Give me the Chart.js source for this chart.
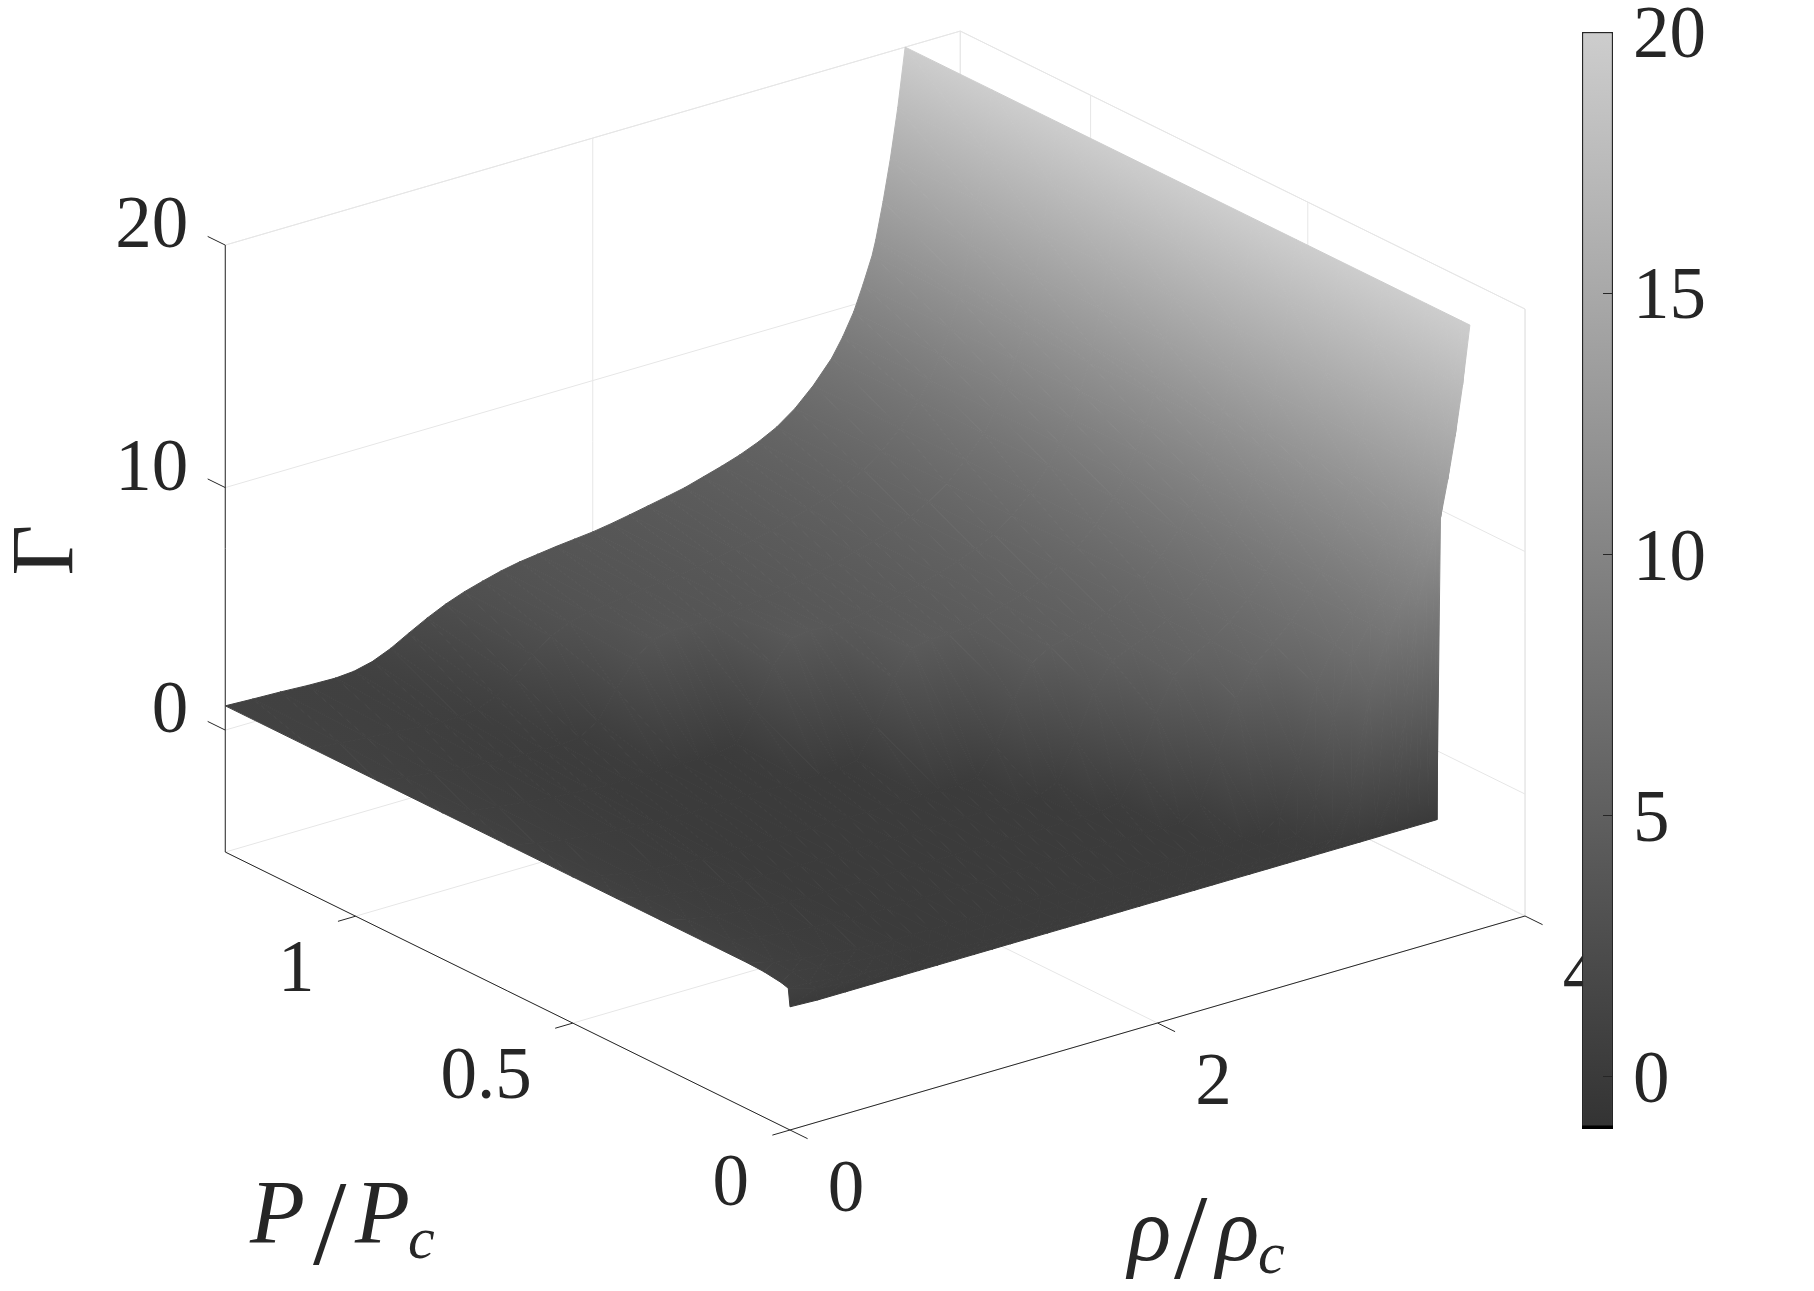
<!DOCTYPE html>
<html>
<head>
<meta charset="utf-8">
<title>Gamma surface</title>
<script src="https://cdn.jsdelivr.net/npm/chart.js@4/dist/chart.umd.min.js"></script>
<style>
  html, body { margin: 0; background: #fff; }
  #surface, #colorbar { position: absolute; top: 0; }
  #surface { left: 0; }
  #colorbar { left: 1582px; }
</style>
</head>
<body>
<canvas id="surface" width="1814" height="1291"></canvas>
<canvas id="colorbar" width="232" height="1291"></canvas>
<script>
// values
const rhoValues = [0, 0.15, 0.3, 0.45, 0.6, 0.7, 0.8, 0.9, 1.0, 1.1, 1.2, 1.3, 1.4, 1.5, 1.6, 1.7, 1.8, 1.9, 2.0, 2.1, 2.2, 2.3, 2.4, 2.5, 2.6, 2.7, 2.8, 2.9, 3.0, 3.1, 3.2, 3.3, 3.36, 3.42, 3.47, 3.52, 3.54, 3.58, 3.62, 3.66, 3.7];
const pValues = [0, 0.004, 0.02, 0.06, 0.1, 0.2, 0.3, 0.4, 0.5, 0.65, 0.8, 0.95, 1.1, 1.3];

// far edge of the surface, also where every row ends up at high density
const gammaPlateau = [1.0, 0.95, 0.91, 0.85, 0.82, 0.88, 1.06, 1.38, 1.8, 2.2, 2.55, 2.83, 3.05, 3.25, 3.4, 3.5, 3.6, 3.68, 3.76, 3.88, 4.02, 4.17, 4.32, 4.48, 4.7, 4.92, 5.17, 5.48, 5.87, 6.42, 7.15, 8.05, 8.8, 9.7, 10.7, 11.8, 12.4, 13.9, 15.6, 17.6, 20];

// low density part of each row, the rest of the row is gammaPlateau
const headP000 = [0.05, 0, 0, 0, 0, 0, 0, 0, 0, 0, 0, 0, 0, 0, 0, 0, 0, 0, 0, 0, 0, 0, 0, 0, 0, 0, 0, 0, 0, 0, 0, 0, 0, 0, 0, 0];
const headP004 = [0.78, 0.45, 0.3, 0.2, 0.15, 0.15, 0.15, 0.15, 0.15, 0.15, 0.15, 0.15, 0.15, 0.15, 0.15, 0.15, 0.15, 0.15, 0.15, 0.15, 0.15, 0.15, 0.15, 0.15, 0.15, 0.15, 0.15, 0.15, 0.15, 0.15, 0.2, 1.8, 5, 8.9, 10.4];
const headP020 = [0.87, 0.55, 0.4, 0.3, 0.2, 0.15, 0.15, 0.15, 0.15, 0.15, 0.15, 0.15, 0.15, 0.15, 0.15, 0.15, 0.15, 0.15, 0.15, 0.15, 0.15, 0.15, 0.15, 0.15, 0.15, 0.15, 0.15, 0.15, 0.2, 1.5, 5.8, 7.9];
const headP060 = [0.97, 0.65, 0.5, 0.35, 0.25, 0.2, 0.15, 0.15, 0.15, 0.15, 0.15, 0.15, 0.15, 0.15, 0.15, 0.15, 0.15, 0.15, 0.15, 0.15, 0.15, 0.15, 0.15, 0.15, 0.15, 0.15, 0.15, 0.2, 1.3, 4.6, 6.9];
const headP100 = [1.0, 0.7, 0.5, 0.35, 0.25, 0.2, 0.15, 0.15, 0.15, 0.15, 0.15, 0.15, 0.15, 0.15, 0.15, 0.15, 0.15, 0.15, 0.15, 0.15, 0.15, 0.15, 0.15, 0.15, 0.15, 0.15, 0.15, 0.6, 2.6, 5.6, 7.05];
const headP200 = [1.0, 0.7, 0.5, 0.35, 0.25, 0.2, 0.15, 0.15, 0.15, 0.15, 0.15, 0.15, 0.15, 0.15, 0.15, 0.15, 0.15, 0.15, 0.15, 0.15, 0.15, 0.15, 0.15, 0.15, 0.15, 0.7, 2.5, 4.6, 5.75];
const headP300 = [1.0, 0.7, 0.5, 0.35, 0.25, 0.2, 0.15, 0.15, 0.15, 0.15, 0.15, 0.15, 0.15, 0.15, 0.15, 0.15, 0.15, 0.15, 0.15, 0.15, 0.15, 0.15, 0.15, 0.3, 1.6, 3.5, 4.9];
const headP400 = [1.0, 0.7, 0.5, 0.35, 0.25, 0.2, 0.15, 0.15, 0.15, 0.15, 0.15, 0.15, 0.15, 0.15, 0.15, 0.15, 0.15, 0.15, 0.15, 0.15, 0.15, 0.15, 0.5, 2.0, 3.8, 4.85];
const headP500 = [1.0, 0.7, 0.5, 0.35, 0.25, 0.2, 0.15, 0.15, 0.15, 0.15, 0.15, 0.15, 0.15, 0.15, 0.15, 0.15, 0.15, 0.15, 0.15, 0.15, 0.25, 1.3, 3.0, 4.3, 4.75];
const headP650 = [1.0, 0.72, 0.55, 0.4, 0.3, 0.22, 0.15, 0.15, 0.15, 0.15, 0.15, 0.15, 0.15, 0.15, 0.15, 0.15, 0.15, 0.3, 1.5, 3.2, 4.25, 4.4, 4.4];
const headP800 = [1.0, 0.75, 0.6, 0.45, 0.3, 0.25, 0.2, 0.15, 0.15, 0.15, 0.15, 0.15, 0.15, 0.15, 0.3, 1.5, 3.1, 4.0, 4.1, 4.05, 4.05];
const headP950 = [1.0, 0.8, 0.65, 0.5, 0.4, 0.35, 0.3, 0.3, 0.3, 0.35, 0.8, 1.9, 2.9, 3.5, 3.65, 3.65];
const headP1100 = [1.0, 0.9, 0.8, 0.7, 0.6, 0.55, 0.55, 0.65, 0.95, 1.5, 2.2, 2.75, 3.1, 3.3];
const headP1300 = [1.0];

const gammaRows = [headP000, headP004, headP020, headP060, headP100, headP200, headP300, headP400, headP500, headP650, headP800, headP950, headP1100, headP1300]
  .map(head => head.concat(gammaPlateau.slice(head.length)));

const gammaTicks = [0, 10, 20];
const pTicks = [0, 0.5, 1];
const pTickLabels = ["0", "0.5", "1"];
const rhoTicks = [0, 2, 4];
const colorbarTicks = [0, 5, 10, 15, 20];

const rhoMax = 4, pMax = 1.3, gammaMin = -5.03, gammaMax = 20;
const colorMin = -1, colorMax = 20;
const grayLow = 51, grayHigh = 205;

const inkColor = "#262626";
const gridColor = "#e6e6e6";
const numberFont = '73px "Liberation Serif"';

// view of the MATLAB box, orthographic
function project(rho, p, gamma) {
  return {
    x: 790 + 183.75 * rho - 434.4 * p,
    y: 1130 - 53.5 * rho - 213.8 * p - 24.25 * (gamma - gammaMin)
  };
}

function levelFor(gamma) {
  return grayLow + (grayHigh - grayLow) * (gamma - colorMin) / (colorMax - colorMin);
}
function gammaForLevel(level) {
  return colorMin + (level - grayLow) * (colorMax - colorMin) / (grayHigh - grayLow);
}
function grayCss(level) {
  const v = Math.round(Math.min(grayHigh, Math.max(grayLow, level)));
  return "rgb(" + v + "," + v + "," + v + ")";
}

const surfaceCtx = document.getElementById("surface").getContext("2d");

// exact linear shade over one triangle of the grid, the end stops sit on
// whole gray levels so that neighbouring triangles agree
function triangleShade(a, b, c) {
  const sorted = [a, b, c].sort((m, n) => m.g - n.g);
  const low = sorted[0], high = sorted[2];
  const span = high.g - low.g;
  if (span < 0.001) return grayCss(levelFor(low.g));
  const ux = b.x - a.x, uy = b.y - a.y, vx = c.x - a.x, vy = c.y - a.y;
  const det = ux * vy - uy * vx;
  if (Math.abs(det) < 0.01) {
    const flat = surfaceCtx.createLinearGradient(low.x, low.y, high.x, high.y);
    flat.addColorStop(0, grayCss(levelFor(low.g)));
    flat.addColorStop(1, grayCss(levelFor(high.g)));
    return flat;
  }
  const du = b.g - a.g, dv = c.g - a.g;
  const gx = (du * vy - dv * uy) / det;
  const gy = (dv * ux - du * vx) / det;
  const len = gx * gx + gy * gy;
  const levelA = Math.floor(levelFor(low.g)), levelB = Math.ceil(levelFor(high.g));
  const toA = (gammaForLevel(levelA) - low.g) / len;
  const toB = (gammaForLevel(levelB) - low.g) / len;
  const grad = surfaceCtx.createLinearGradient(low.x + gx * toA, low.y + gy * toA, low.x + gx * toB, low.y + gy * toB);
  grad.addColorStop(0, grayCss(levelA));
  grad.addColorStop(1, grayCss(levelB));
  return grad;
}

function triangleDataset(a, b, c) {
  const shade = triangleShade(a, b, c);
  return {
    data: [a, b, c, a].map(q => ({ x: q.x, y: q.y })),
    showLine: true,
    fill: "shape",
    backgroundColor: shade,
    borderColor: shade,
    borderWidth: 1,
    pointRadius: 0,
    tension: 0
  };
}

function lineDataset(from, to, color) {
  return {
    data: [project(from[0], from[1], from[2]), project(to[0], to[1], to[2])],
    showLine: true,
    borderColor: color,
    borderWidth: 1,
    pointRadius: 0
  };
}

const datasets = [];

// chart.js paints dataset 0 last, so the near cells go first
function vertex(i, j) {
  const pos = project(rhoValues[j], pValues[i], gammaRows[i][j]);
  return { x: pos.x, y: pos.y, g: gammaRows[i][j] };
}
for (let i = 0; i < pValues.length - 1; i++) {
  for (let j = 0; j < rhoValues.length - 1; j++) {
    const a = vertex(i, j), b = vertex(i, j + 1), c = vertex(i + 1, j + 1), d = vertex(i + 1, j);
    datasets.push(triangleDataset(a, b, c));
    datasets.push(triangleDataset(a, c, d));
  }
}

// dark axes and ticks
datasets.push(lineDataset([0, 0, gammaMin], [rhoMax, 0, gammaMin], inkColor));
datasets.push(lineDataset([0, 0, gammaMin], [0, pMax, gammaMin], inkColor));
datasets.push(lineDataset([0, pMax, gammaMin], [0, pMax, gammaMax], inkColor));
gammaTicks.forEach(g => datasets.push(lineDataset([0, pMax, g], [0, pMax + 0.0405, g], inkColor)));
pTicks.forEach(p => datasets.push(lineDataset([0, p, gammaMin], [-0.096, p, gammaMin], inkColor)));
rhoTicks.forEach(r => datasets.push(lineDataset([r, 0, gammaMin], [r, -0.0405, gammaMin], inkColor)));

// pale box and grid
datasets.push(lineDataset([0, pMax, gammaMax], [rhoMax, pMax, gammaMax], gridColor));
datasets.push(lineDataset([rhoMax, pMax, gammaMax], [rhoMax, 0, gammaMax], gridColor));
datasets.push(lineDataset([rhoMax, pMax, gammaMin], [rhoMax, pMax, gammaMax], gridColor));
datasets.push(lineDataset([rhoMax, 0, gammaMin], [rhoMax, 0, gammaMax], gridColor));
datasets.push(lineDataset([0, pMax, gammaMin], [rhoMax, pMax, gammaMin], gridColor));
datasets.push(lineDataset([rhoMax, 0, gammaMin], [rhoMax, pMax, gammaMin], gridColor));
gammaTicks.forEach(g => {
  datasets.push(lineDataset([0, pMax, g], [rhoMax, pMax, g], gridColor));
  datasets.push(lineDataset([rhoMax, pMax, g], [rhoMax, 0, g], gridColor));
});
rhoTicks.forEach(r => {
  datasets.push(lineDataset([r, pMax, gammaMin], [r, pMax, gammaMax], gridColor));
  datasets.push(lineDataset([r, 0, gammaMin], [r, pMax, gammaMin], gridColor));
});
pTicks.forEach(p => {
  datasets.push(lineDataset([rhoMax, p, gammaMin], [rhoMax, p, gammaMax], gridColor));
  datasets.push(lineDataset([0, p, gammaMin], [rhoMax, p, gammaMin], gridColor));
});

function put(ctx, text, x, y, font, align, base) {
  ctx.font = font;
  ctx.textAlign = align || "left";
  ctx.textBaseline = base || "alphabetic";
  ctx.fillText(text, x, y);
}

// tick numbers and axis names
const labelsPlugin = {
  id: "labels3d",
  afterDatasetsDraw(chart) {
    const ctx = chart.ctx;
    ctx.save();
    ctx.fillStyle = inkColor;
    gammaTicks.forEach(g => {
      const t = project(0, pMax, g);
      put(ctx, String(g), t.x - 37, t.y - 17, numberFont, "right", "middle");
    });
    pTicks.forEach((p, k) => {
      const t = project(0, p, gammaMin);
      put(ctx, pTickLabels[k], t.x - 41, t.y + 56, numberFont, "right", "middle");
    });
    rhoTicks.forEach(r => {
      const t = project(r, 0, gammaMin);
      put(ctx, String(r), t.x + 56, t.y + 62, numberFont, "center", "middle");
    });

    const nameFont = 'italic 90px "Liberation Serif"';
    const subFont = 'italic 60px "Liberation Serif"';
    const slashFont = '120px "Liberation Serif"';
    put(ctx, "P", 250, 1243, nameFont);
    put(ctx, "/", 313, 1264, slashFont);
    put(ctx, "P", 355, 1243, nameFont);
    put(ctx, "c", 408, 1258, subFont);
    put(ctx, "ρ", 1128, 1260, nameFont);
    put(ctx, "/", 1174, 1278, slashFont);
    put(ctx, "ρ", 1216, 1260, nameFont);
    put(ctx, "c", 1258, 1273, subFont);

    ctx.translate(72, 550);
    ctx.rotate(-Math.PI / 2);
    put(ctx, "Γ", 0, 0, '88px "Liberation Serif"', "center");
    ctx.restore();
  }
};

new Chart(surfaceCtx, {
  type: "scatter",
  data: { datasets: datasets },
  plugins: [labelsPlugin],
  options: {
    responsive: false,
    animation: false,
    events: [],
    layout: { padding: 0 },
    plugins: { legend: { display: false }, tooltip: { enabled: false } },
    scales: {
      x: { type: "linear", display: false, min: 0, max: 1814 },
      y: { type: "linear", display: false, min: 0, max: 1291, reverse: true }
    }
  }
});

// colorbar, a floating bar on a real axis
new Chart(document.getElementById("colorbar").getContext("2d"), {
  type: "bar",
  data: {
    labels: ["Γ"],
    datasets: [
      {
        data: [[colorMin, -0.94]],
        backgroundColor: "#000000",
        grouped: false,
        barPercentage: 1,
        categoryPercentage: 1
      },
      {
        data: [[colorMin, colorMax]],
        backgroundColor(context) {
          const s = context.chart.scales.y;
          const bottom = s.getPixelForValue(colorMin), top = s.getPixelForValue(colorMax);
          if (!isFinite(bottom) || !isFinite(top)) return grayCss(grayLow);
          const g = context.chart.ctx.createLinearGradient(0, bottom, 0, top);
          g.addColorStop(0, grayCss(grayLow));
          g.addColorStop(1, grayCss(grayHigh));
          return g;
        },
        borderColor: inkColor,
        borderWidth: 1.5,
        borderSkipped: false,
        grouped: false,
        barPercentage: 1,
        categoryPercentage: 1
      }
    ]
  },
  options: {
    responsive: false,
    animation: false,
    events: [],
    layout: { padding: { top: 32, bottom: 162, left: 0, right: 0 } },
    plugins: { legend: { display: false }, tooltip: { enabled: false } },
    scales: {
      x: { display: false },
      y: {
        position: "right",
        min: colorMin,
        max: colorMax,
        afterFit(scale) {
          scale.width = 201;
          scale.paddingTop = 0;
          scale.paddingBottom = 0;
        },
        afterBuildTicks(scale) { scale.ticks = colorbarTicks.map(v => ({ value: v })); },
        border: { display: false },
        grid: { drawOnChartArea: false, tickLength: -10, tickColor: inkColor, z: 1 },
        ticks: { color: inkColor, font: { family: "Liberation Serif", size: 73 }, padding: 30, labelOffset: 6 }
      }
    }
  }
});
</script>
</body>
</html>
